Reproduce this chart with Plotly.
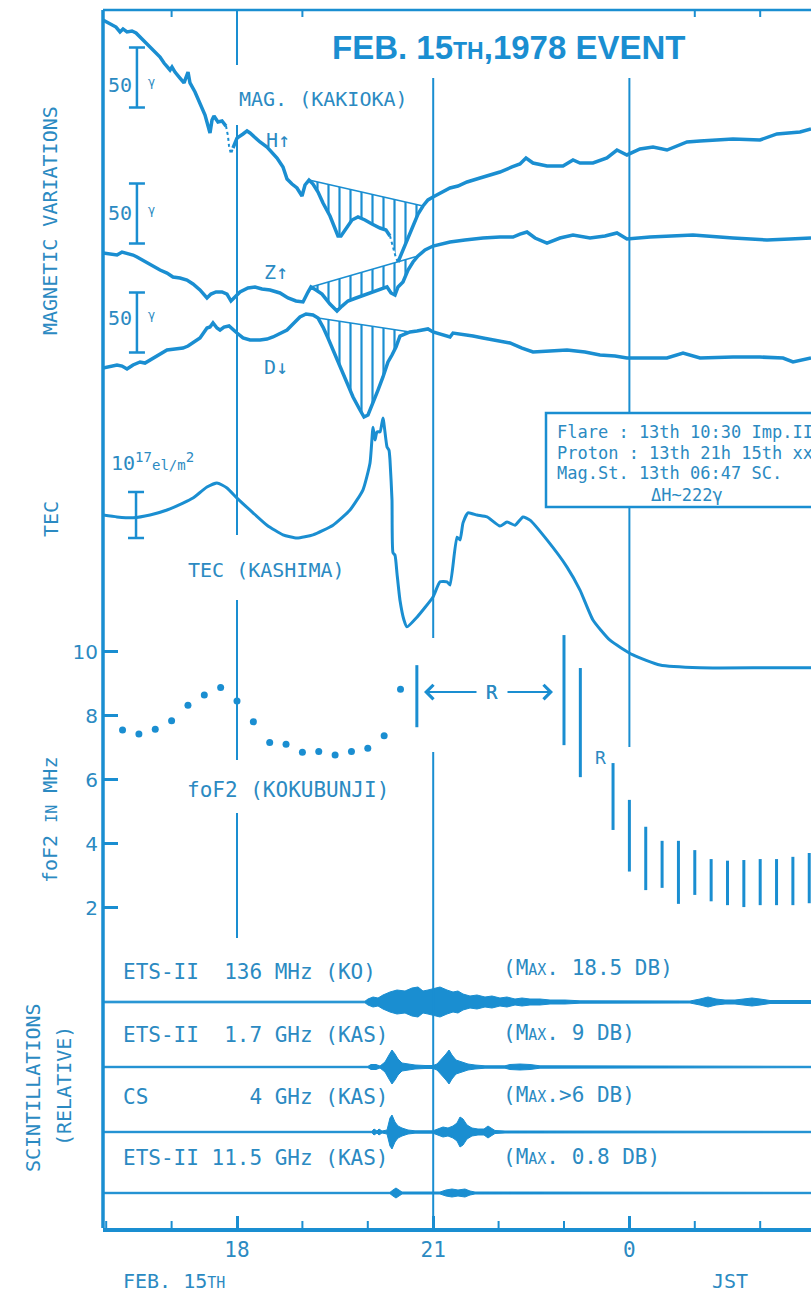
import plotly.graph_objects as go

BLUE = "#1a8ed1"
TXT = "#2b8ac2"
MONO = "DejaVu Sans Mono"

# ---------------- DATA ----------------
# time axis: JST hours on Feb 15 (values >= 24 are Feb 16)
HOUR_TICKS = [18, 21, 24]
HOUR_TICKTEXT = ["18", "21", "0"]
HOUR_MINOR = [16, 17, 19, 20, 22, 23, 25, 26]
TOP_TICKS = [17, 19, 25, 26]

# Magnetic variations, Kakioka (gamma, relative levels)
H_t = [15.951, 16.058, 16.150, 16.211, 16.257, 16.318, 16.394, 16.456, 16.517, 16.624,
       16.670, 16.716, 16.777, 16.823, 16.884, 16.930, 16.976, 17.006, 17.052, 17.128,
       17.190, 17.251, 17.281, 17.358, 17.434, 17.511, 17.587, 17.618, 17.648, 17.709,
       17.771, 17.832, None,
       17.939, 18.000, 18.092, 18.153, 18.199, 18.275, 18.352, 18.459, 18.550, 18.612,
       18.703, 18.765, 18.841, 18.917, 18.994, 19.040, 19.101, 19.162, 19.239, 19.315,
       19.422, 19.498, 19.544, 19.590, 19.667, 19.758, 19.850, 19.957, 20.064, 20.187,
       20.278, 20.339, None,
       20.462, 20.538, 20.615, 20.691, 20.768, 20.844, 20.920, 20.997, 21.104, 21.257,
       21.379, 21.517, 21.716, 22.021, 22.205, 22.327, 22.419, 22.526, 22.740, 22.985,
       23.138, 23.245, 23.443, 23.657, 23.810, 23.963, 24.162, 24.361, 24.575, 24.881,
       25.080, 25.584, 25.997, 26.257, 26.609, 26.777]
H_v = [341.7, 338.3, 335.8, 331.7, 334.2, 331.7, 332.5, 330.8, 327.5, 322.5,
       320.0, 316.7, 314.2, 310.8, 305.8, 303.3, 300.0, 302.5, 298.3, 293.3,
       289.2, 298.3, 289.2, 281.7, 272.5, 262.5, 247.5, 258.3, 261.7, 256.7,
       257.5, 253.3, None,
       235.0, 243.3, 246.7, 249.2, 247.5, 243.3, 240.0, 235.8, 230.8, 226.7,
       219.2, 209.2, 205.0, 201.7, 195.0, 204.2, 208.3, 205.0, 198.3, 189.2,
       178.3, 167.5, 161.7, 161.7, 168.3, 175.0, 177.5, 175.0, 171.7, 168.3,
       166.7, 161.7, None,
       140.0, 150.0, 161.7, 171.7, 180.0, 186.7, 191.7, 194.2, 197.5, 201.7,
       203.3, 206.7, 210.0, 215.0, 219.2, 221.7, 226.7, 222.5, 220.0, 220.0,
       225.0, 222.5, 222.5, 226.7, 233.3, 229.2, 234.2, 235.8, 233.3, 240.0,
       240.8, 242.5, 241.7, 246.7, 248.3, 250.8]
H_dot1_t = [17.832, 17.862, 17.878, 17.908, 17.939]
H_dot1_v = [253.3, 245.0, 236.7, 230.0, 235.0]
H_dot2_t = [20.339, 20.370, 20.400, 20.431, 20.462]
H_dot2_v = [161.7, 155.0, 148.3, 143.3, 140.0]

Z_t = [15.951, 16.058, 16.165, 16.242, 16.318, 16.410, 16.471, 16.547, 16.624, 16.716,
       16.823, 16.930, 17.021, 17.128, 17.235, 17.327, 17.434, 17.541, 17.602, 17.679,
       17.771, 17.847, 17.908, 17.969, 18.046, 18.168, 18.275, 18.382, 18.505, 18.657,
       18.780, 18.902, 19.009, 19.086, 19.131, 19.208, 19.300, 19.422, 19.529, 19.606,
       19.697, 19.820, 19.957, 20.080, 20.202, 20.294, 20.355, 20.416, 20.462, 20.538,
       20.615, 20.691, 20.768, 20.875, 20.997, 21.135, 21.257, 21.486, 21.761, 22.021,
       22.220, 22.327, 22.434, 22.557, 22.740, 22.939, 23.138, 23.398, 23.627, 23.810,
       23.963, 24.315, 24.972, 25.584, 26.104, 26.456, 26.777]
Z_v = [147.5, 146.7, 145.8, 148.3, 147.5, 145.8, 144.2, 141.7, 139.2, 136.7,
       133.3, 130.8, 127.5, 126.7, 125.0, 121.7, 116.7, 110.0, 113.3, 115.0,
       115.0, 113.3, 107.5, 110.8, 115.0, 118.3, 119.2, 117.5, 116.7, 114.2,
       110.0, 107.5, 106.7, 115.0, 119.2, 116.7, 113.3, 105.0, 99.2, 103.3,
       107.5, 110.0, 112.5, 115.0, 117.5, 119.2, 114.2, 112.5, 119.2, 123.3,
       133.3, 140.0, 145.0, 150.0, 153.3, 155.0, 156.7, 158.3, 160.0, 160.8,
       160.8, 163.3, 165.0, 160.0, 155.8, 160.0, 162.5, 160.0, 161.7, 164.2,
       159.2, 160.8, 162.5, 160.0, 158.3, 159.2, 160.0]

D_t = [15.951, 16.058, 16.165, 16.242, 16.318, 16.410, 16.517, 16.593, 16.670, 16.792,
       16.930, 17.052, 17.174, 17.251, 17.327, 17.434, 17.541, 17.587, 17.633, 17.694,
       17.740, 17.801, 17.878, 17.939, 18.000, 18.092, 18.199, 18.352, 18.459, 18.550,
       18.657, 18.765, 18.856, 18.963, 19.055, 19.162, 19.239, 19.315, 19.391, 19.468,
       19.575, 19.682, 19.774, 19.881, 19.942, 20.003, 20.080, 20.156, 20.232, 20.309,
       20.370, 20.431, 20.492, 20.569, 20.645, 20.752, 20.844, 20.920, 20.997, 21.104,
       21.257, 21.303, 21.440, 21.609, 21.761, 21.976, 22.174, 22.358, 22.526, 22.786,
       23.046, 23.321, 23.550, 23.780, 23.963, 24.239, 24.575, 24.820, 25.080, 25.584,
       25.997, 26.349, 26.502, 26.777]
D_v = [51.7, 53.3, 54.2, 53.3, 50.8, 54.2, 56.7, 55.8, 58.3, 61.7,
       66.7, 67.5, 68.3, 70.0, 72.5, 76.7, 85.0, 85.8, 89.2, 85.0,
       83.3, 85.8, 86.7, 83.3, 80.8, 76.7, 75.0, 75.0, 75.8, 77.5,
       80.8, 83.3, 88.3, 94.2, 96.7, 95.8, 93.3, 85.8, 76.7, 66.7,
       53.3, 39.2, 27.5, 16.7, 10.8, 12.5, 22.5, 33.3, 44.2, 56.7,
       62.5, 69.2, 78.3, 80.0, 81.7, 82.5, 83.3, 84.2, 81.7, 80.0,
       77.5, 80.8, 80.0, 78.3, 76.7, 74.2, 72.5, 68.3, 65.0, 65.8,
       66.7, 65.0, 62.5, 61.7, 60.0, 60.0, 60.0, 64.2, 60.0, 60.8,
       60.8, 60.0, 56.7, 60.0]

# hatched (disturbance) regions: straight reference lines (time, gamma)
H_ref_t = [19.101, 20.844]
H_ref_v = [208.3, 186.7]
Z_ref_t = [19.131, 20.768]
Z_ref_v = [119.2, 145.0]
D_ref_t = [19.239, 20.645]
D_ref_v = [93.3, 81.7]

# 50 gamma scale bars
GBAR_t = 16.47
GBAR_mid = [293.8, 180.4, 89.6]
GBAR_half = 25

# TEC, Kashima (10^17 el/m^2)
TEC_t = [15.951, 16.165, 16.410, 16.670, 16.930, 17.174, 17.327, 17.541, 17.694, 17.847,
         18.000, 18.245, 18.459, 18.703, 18.917, 19.162, 19.468, 19.728, 19.927, 20.034,
         20.080, 20.110, 20.141, 20.187, 20.232, 20.294, 20.324, 20.339, 20.370, 20.385,
         20.416, 20.446, 20.492, 20.553, 20.599, 20.752, 20.997, 21.104, 21.211, 21.257,
         21.364, 21.410, 21.456, 21.532, 21.670, 21.823, 22.021, 22.128, 22.251, 22.373,
         22.480, 22.740, 23.046, 23.245, 23.443, 23.703, 24.055, 24.468, 25.080, 26.104,
         26.777]
TEC_v = [4.02, 3.98, 3.96, 4.02, 4.13, 4.28, 4.39, 4.63, 4.72, 4.61,
         4.39, 4.07, 3.80, 3.59, 3.52, 3.59, 3.80, 4.13, 4.57, 5.15,
         5.93, 5.65, 5.83, 5.83, 6.13, 5.50, 5.43, 5.22, 4.35, 3.20,
         3.15, 2.76, 2.17, 1.74, 1.59, 1.80, 2.24, 2.57, 2.57, 2.50,
         3.54, 3.48, 3.85, 4.07, 4.02, 3.98, 3.78, 3.87, 3.80, 3.98,
         3.91, 3.48, 2.89, 2.39, 1.74, 1.30, 0.98, 0.76, 0.70, 0.70,
         0.70]
TBAR_t = 16.456
TBAR_mid = 4.02
TBAR_half = 0.5

# foF2, Kokubunji (MHz)
foF2_t = [16.25, 16.50, 16.75, 17.00, 17.25, 17.50, 17.75, 18.00, 18.25, 18.50,
          18.75, 19.00, 19.25, 19.50, 19.75, 20.00, 20.25, 20.50]
foF2_v = [7.55, 7.43, 7.58, 7.84, 8.33, 8.65, 8.88, 8.46, 7.81, 7.16,
          7.11, 6.86, 6.88, 6.77, 6.88, 6.98, 7.37, 8.83]
foF2_bar_t = [20.75, 23.00, 23.25, 23.75, 24.00, 24.25, 24.50, 24.75, 25.00, 25.25,
              25.50, 25.75, 26.00, 26.25, 26.50, 26.75]
foF2_bar_lo = [7.64, 7.08, 6.08, 4.43, 3.13, 2.55, 2.62, 2.12, 2.40, 2.20,
               2.08, 2.02, 2.08, 2.08, 2.08, 2.14]
foF2_bar_hi = [9.58, 10.52, 9.49, 6.52, 5.37, 4.53, 4.09, 4.09, 3.80, 3.52,
               3.47, 3.49, 3.52, 3.52, 3.59, 3.71]
FOF2_TICKS = [2, 4, 6, 8, 10]

# Scintillations (relative amplitude envelopes)
SC_base = [226, 161, 96, 35]
s136_t = [15.951, 19.957, 20.003, 20.080, 20.156, 20.232, 20.339, 20.446, 20.569, 20.676,
          20.768, 20.844, 20.920, 20.997, 21.104, 21.211, 21.303, 21.379, 21.456, 21.563,
          21.670, 21.792, 21.899, 22.021, 22.128, 22.251, 22.358, 22.480, 22.633, 22.786,
          23.015, 23.245, 23.856, 24.927, 25.080, 25.202, 25.324, 25.462, 25.615, 25.768,
          25.875, 25.997, 26.150, 26.777]
s136_a = [0.8, 0.8, 3, 5, 4, 7, 10, 12, 11, 14,
          15, 11, 12, 13, 15, 12, 10, 11, 8, 6,
          7, 5, 6, 4, 5, 3, 4, 3, 3, 2,
          2, 1.2, 1, 1, 3, 5, 3, 2, 2, 3,
          4, 3, 1.5, 1.5]
s17_t = [15.951, 20.003, 20.049, 20.125, 20.187, 20.263, 20.324, 20.370, 20.416, 20.462,
         20.523, 20.615, 20.722, 20.875, 20.997, 21.058, 21.135, 21.196, 21.242, 21.287,
         21.349, 21.440, 21.532, 21.639, 21.792, 22.098, 22.174, 22.327, 22.480, 22.633,
         26.777]
s17_a = [0.7, 0.7, 2.5, 2.5, 1, 5, 12, 17, 13, 8,
         4, 3, 2, 1.5, 1.5, 3, 8, 13, 17, 12,
         7, 5, 3, 2, 1.2, 1.2, 2.5, 3, 2.5, 1.2,
         0.7]
sCS_t = [15.951, 20.064, 20.095, 20.141, 20.171, 20.217, 20.294, 20.339, 20.370, 20.416,
         20.462, 20.523, 20.615, 20.722, 20.997, 21.073, 21.150, 21.226, 21.303, 21.364,
         21.410, 21.456, 21.517, 21.593, 21.685, 21.777, 21.838, 21.884, 21.945, 22.098,
         26.777]
sCS_a = [0.7, 0.7, 3, 1, 3, 1, 2, 14, 17, 10,
         6, 4, 2, 1.2, 1.2, 3, 5, 4, 6, 9,
         15, 13, 7, 4, 3, 3, 6, 4, 1.5, 1,
         0.7]
s115_t = [15.951, 20.339, 20.385, 20.431, 20.477, 20.523, 21.104, 21.196, 21.287, 21.379,
          21.486, 21.563, 21.639, 26.777]
s115_a = [0.7, 0.7, 3, 5, 3, 1, 1, 3, 4, 3,
          4, 2, 1, 0.7]

# ---------------- LAYOUT GEOMETRY ----------------
W, HGT = 811, 1296
PL, PT, PR, PB = 103, 10, 811, 1228      # plot area in page pixels
ML, MT = PL, PT
MR = W - PR
MB = HGT - PB
PW = PR - PL
PH = PB - PT
X0, X1 = 15.951, 26.777


def xp(px):
    return (px - PL) / PW


def yp(py):
    return (PB - py) / PH


def hx(px):
    return X0 + (px - PL) * (X1 - X0) / PW


fig = go.Figure()


def segment(t, v, t0, t1):
    ts, vs = [], []
    for a, b in zip(t, v):
        if a is None or b is None:
            continue
        if t0 - 1e-6 <= a <= t1 + 1e-6:
            ts.append(a)
            vs.append(b)
    return ts, vs


# hatched regions (magnetic)
for (ct, cv, rt, rv) in [(H_t, H_v, H_ref_t, H_ref_v),
                         (Z_t, Z_v, Z_ref_t, Z_ref_v),
                         (D_t, D_v, D_ref_t, D_ref_v)]:
    st, sv = segment(ct, cv, rt[0], rt[1])
    fig.add_trace(go.Scatter(x=st, y=sv, mode="lines", line=dict(width=0, color=BLUE),
                             yaxis="y", hoverinfo="skip", showlegend=False))
    fig.add_trace(go.Scatter(x=rt, y=rv, mode="lines", line=dict(width=1.5, color=BLUE),
                             fill="tonexty", fillcolor="rgba(0,0,0,0)",
                             fillpattern=dict(shape="|", fgcolor=BLUE, bgcolor="rgba(0,0,0,0)",
                                              size=11, solidity=0.2, fgopacity=1),
                             yaxis="y", hoverinfo="skip", showlegend=False))

# magnetic traces
for t, v in [(H_t, H_v), (Z_t, Z_v), (D_t, D_v)]:
    fig.add_trace(go.Scatter(x=t, y=v, mode="lines", line=dict(width=3.5, color=BLUE),
                             connectgaps=False, yaxis="y", showlegend=False))
for t, v in [(H_dot1_t, H_dot1_v), (H_dot2_t, H_dot2_v)]:
    fig.add_trace(go.Scatter(x=t, y=v, mode="lines", line=dict(width=2, color=BLUE, dash="dot"),
                             yaxis="y", showlegend=False))

# 50 gamma scale bars
fig.add_trace(go.Scatter(x=[GBAR_t] * len(GBAR_mid), y=GBAR_mid, mode="markers",
                         marker=dict(size=1, color=BLUE),
                         error_y=dict(type="constant", value=GBAR_half, color=BLUE,
                                      thickness=2.5, width=8),
                         yaxis="y", showlegend=False))

# TEC
fig.add_trace(go.Scatter(x=TEC_t, y=TEC_v, mode="lines",
                         line=dict(width=3, color=BLUE, shape="spline", smoothing=0.5),
                         yaxis="y2", showlegend=False))
fig.add_trace(go.Scatter(x=[TBAR_t], y=[TBAR_mid], mode="markers",
                         marker=dict(size=1, color=BLUE),
                         error_y=dict(type="constant", value=TBAR_half, color=BLUE,
                                      thickness=2.5, width=8),
                         yaxis="y2", showlegend=False))

# foF2 dots and range bars
fig.add_trace(go.Scatter(x=foF2_t, y=foF2_v, mode="markers",
                         marker=dict(size=7, color=BLUE), yaxis="y3", showlegend=False))
bx, by = [], []
for t, lo, hi in zip(foF2_bar_t, foF2_bar_lo, foF2_bar_hi):
    bx += [t, t, None]
    by += [lo, hi, None]
fig.add_trace(go.Scatter(x=bx, y=by, mode="lines", line=dict(width=3, color=BLUE),
                         yaxis="y3", showlegend=False))

# scintillations
for base, t, a in zip(SC_base, [s136_t, s17_t, sCS_t, s115_t],
                      [s136_a, s17_a, sCS_a, s115_a]):
    up = [base + x for x in a]
    dn = [base - x for x in a]
    fig.add_trace(go.Scatter(x=t, y=dn, mode="lines", line=dict(width=1, color=BLUE),
                             yaxis="y4", showlegend=False))
    fig.add_trace(go.Scatter(x=t, y=up, mode="lines", line=dict(width=1, color=BLUE),
                             fill="tonexty", fillcolor=BLUE, yaxis="y4", showlegend=False))

# ---------------- SHAPES ----------------
shapes = []
# frame
shapes.append(dict(type="line", xref="paper", yref="paper", x0=0, x1=0, y0=0, y1=1,
                   line=dict(color=BLUE, width=3.5)))
shapes.append(dict(type="line", xref="paper", yref="paper", x0=0, x1=1, y0=1, y1=1,
                   line=dict(color=BLUE, width=2.5)))
# top and bottom minor hour ticks
for h in TOP_TICKS:
    shapes.append(dict(type="line", xref="x", yref="paper", x0=h, x1=h,
                       y0=yp(PT + 7), y1=1, line=dict(color=BLUE, width=2)))
for h in HOUR_MINOR:
    shapes.append(dict(type="line", xref="x", yref="paper", x0=h, x1=h,
                       y0=0, y1=yp(PB - 7), line=dict(color=BLUE, width=2)))
# hour divider lines (with gaps for labels)
for h, segs in [(18, [(10, 65), (125, 535), (600, 760), (813, 938)]),
                (21, [(78, 638), (752, 1228)]),
                (24, [(78, 413), (508, 747)])]:
    for a, b in segs:
        shapes.append(dict(type="line", xref="x", yref="paper", x0=h, x1=h,
                           y0=yp(b), y1=yp(a), line=dict(color=BLUE, width=2)))
# info box
shapes.append(dict(type="rect", xref="x", yref="paper", x0=hx(546), x1=X1 + 2,
                   y0=yp(507), y1=yp(413), line=dict(color=BLUE, width=2.5),
                   fillcolor="white"))

# ---------------- ANNOTATIONS ----------------
anns = []


def T(text, px, py, size=21, xa="left", ya="middle", angle=0, color=TXT,
      family=MONO, weight=None):
    f = dict(family=family, size=size, color=color)
    if weight:
        f["weight"] = weight
    anns.append(dict(text=text, x=xp(px), y=yp(py), xref="paper", yref="paper",
                     showarrow=False, xanchor=xa, yanchor=ya, textangle=angle, font=f))


NB = "\u00a0"
T("FEB. 15<span style='font-size:23px'>TH</span>,1978 EVENT", 509, 48, size=33,
  xa="center", color=BLUE, family="Liberation Sans", weight="bold")
T("MAG. (KAKIOKA)", 237, 99, size=20)
T("H↑", 264, 140, size=20)
T("Z↑", 262, 272, size=20)
T("D↓", 262, 367, size=20)
for y in [85, 213, 318]:
    T("50", 106, y, size=20)
    T("γ", 146, y - 3, size=12)
T("10<sup>17</sup><span style='font-size:14px'>el/m</span><sup>2</sup>", 109, 462, size=20)
T("TEC (KASHIMA)", 186, 570, size=20)
T("foF2 (KOKUBUNJI)", 185, 790, size=21)
T("R", 600, 757, size=18, xa="center")

T(f"ETS-II{NB}{NB}136 MHz (KO)", 121, 972)
T(f"ETS-II{NB}{NB}1.7 GHz (KAS)", 121, 1035)
T(f"CS{NB * 8}4 GHz (KAS)", 121, 1097)
T(f"ETS-II{NB}11.5 GHz (KAS)", 121, 1158)
SM = "<span style='font-size:15px'>AX</span>"
T(f"(M{SM}. 18.5 DB)", 501, 968)
T(f"(M{SM}. 9 DB)", 501, 1033)
T(f"(M{SM}.>6 DB)", 501, 1095)
T(f"(M{SM}. 0.8 DB)", 501, 1157)

T("Flare : 13th 10:30 Imp.II", 555, 432, size=17)
T("Proton : 13th 21h 15th xx", 555, 453, size=17)
T("Mag.St. 13th 06:47 SC.", 555, 473, size=17)
T("ΔH~222γ", 649, 495, size=17)

T("MAGNETIC VARIATIONS", 50, 221, size=20, xa="center", angle=-90)
T("TEC", 51, 519, size=20, xa="center", angle=-90)
T("foF2 <span style='font-size:15px'>IN</span> MHz", 50, 820, size=20, xa="center", angle=-90)
T("SCINTILLATIONS", 33, 1088, size=20, xa="center", angle=-90)
T("(RELATIVE)", 64, 1086, size=20, xa="center", angle=-90)

T("FEB. 15<span style='font-size:15px'>TH</span>", 121, 1281, size=20)
T("JST", 730, 1281, size=20, xa="center")

# "<- R ->" : the R label carries the left arrow, a second arrow points right
anns.append(dict(x=hx(424), y=8.74, ax=hx(492), ay=8.74, xref="x", yref="y3",
                 axref="x", ayref="y3", text="R",
                 font=dict(family=MONO, size=19, color=TXT), borderpad=9,
                 showarrow=True, arrowhead=4, arrowsize=1.4, arrowwidth=2,
                 arrowcolor=BLUE, standoff=0, startstandoff=0))
anns.append(dict(x=hx(553), y=8.74, ax=hx(492), ay=8.74, xref="x", yref="y3",
                 axref="x", ayref="y3", text="R",
                 font=dict(family=MONO, size=19, color=TXT), borderpad=9,
                 showarrow=True, arrowhead=4, arrowsize=1.4, arrowwidth=2,
                 arrowcolor=BLUE, standoff=0, startstandoff=0))

# ---------------- AXES ----------------
hide = dict(visible=False, showgrid=False, zeroline=False, fixedrange=True)
fig.update_layout(
    width=W, height=HGT, autosize=False,
    margin=dict(l=ML, r=MR, t=MT, b=MB, pad=0),
    paper_bgcolor="white", plot_bgcolor="rgba(0,0,0,0)",
    showlegend=False,
    xaxis=dict(domain=[0, 1], range=[X0, X1], anchor="y4", showgrid=False, zeroline=False,
               showline=True, linecolor=BLUE, linewidth=3.5,
               ticks="inside", tickmode="array", tickvals=HOUR_TICKS, ticktext=HOUR_TICKTEXT,
               ticklen=12, tickwidth=2.5, tickcolor=BLUE,
               tickfont=dict(family=MONO, size=21, color=TXT)),
    yaxis=dict(domain=[yp(440), 1.0], range=[-8.333, 350], anchor="x", **hide),
    yaxis2=dict(domain=[yp(700), yp(400)], range=[0, 6.5217], anchor="x", **hide),
    yaxis3=dict(domain=[yp(975), yp(600)], range=[-0.103, 11.616], anchor="x",
                showgrid=False, zeroline=False, showline=False,
                ticks="inside", tickmode="array", tickvals=FOF2_TICKS,
                ticktext=[str(v) for v in FOF2_TICKS], ticklen=15, tickwidth=2.5,
                tickcolor=BLUE, ticklabelstandoff=4,
                tickfont=dict(family="DejaVu Sans", size=20, color=TXT)),
    yaxis4=dict(domain=[0, yp(960)], range=[0, 268], anchor="x", **hide),
    shapes=shapes,
    annotations=anns,
)

# remove the default page margin so the 811x1296 figure fills the window exactly
POST = ("document.body.style.margin='0';document.body.style.padding='0';"
        "document.body.style.overflow='hidden';"
        "document.documentElement.style.overflow='hidden';")
fig.write_html("out.html", config={"displayModeBar": False}, post_script=POST)
